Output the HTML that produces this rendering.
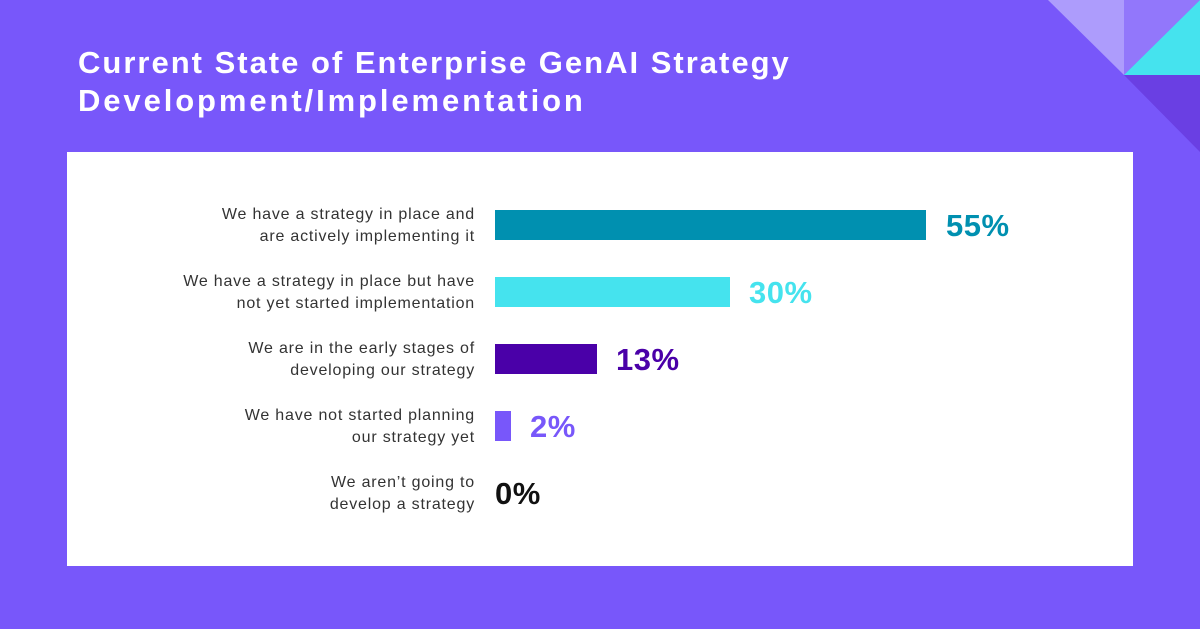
<!DOCTYPE html>
<html><head><style>
body{margin:0;width:1200px;height:629px;background:#7857fa;position:relative;overflow:hidden;font-family:"Liberation Sans",sans-serif}
h1{position:absolute;left:78px;top:44px;margin:0;color:#fff;font-size:31px;line-height:38px;font-weight:bold;letter-spacing:2px}
h1 span{letter-spacing:2.9px}
.panel{position:absolute;left:67px;top:152px;width:1066px;height:414px;background:#fff}
.lab{position:absolute;right:725px;width:360px;text-align:right;font-size:16px;line-height:22px;color:#333;letter-spacing:0.8px}
.bar{position:absolute;left:495px;height:30px}
.pct{position:absolute;font-size:31px;font-weight:bold;line-height:30px;letter-spacing:0.5px}
</style></head><body>
<svg style="position:absolute;left:0;top:0" width="1200" height="629">
<polygon points="1048,0 1124,0 1124,75" fill="#ad9cfc"/>
<polygon points="1124,0 1200,0 1124,75" fill="#9277fb"/>
<polygon points="1124,75 1200,0 1200,75" fill="#45e3ee"/>
<polygon points="1124,75 1200,75 1200,152" fill="#6a3fe3"/>
</svg>
<h1>Current State of Enterprise GenAI Strategy<br><span>Development/Implementation</span></h1>
<div class="panel"></div>
<div class="lab" style="top:204px">We have a strategy in place and<br>are actively implementing it</div>
<div class="lab" style="top:271px">We have a strategy in place but have<br>not yet started implementation</div>
<div class="lab" style="top:338px">We are in the early stages of<br>developing our strategy</div>
<div class="lab" style="top:405px">We have not started planning<br>our strategy yet</div>
<div class="lab" style="top:472px">We aren’t going to<br>develop a strategy</div>
<div class="bar" style="top:210px;width:431px;background:#0090b0"></div>
<div class="bar" style="top:277px;width:235px;background:#45e3ee"></div>
<div class="bar" style="top:344px;width:102px;background:#4a00a8"></div>
<div class="bar" style="top:411px;width:16px;background:#7857fa"></div>
<div class="pct" style="left:946px;top:211px;color:#0090b0">55%</div>
<div class="pct" style="left:749px;top:278px;color:#45e3ee">30%</div>
<div class="pct" style="left:616px;top:345px;color:#4a00a8">13%</div>
<div class="pct" style="left:530px;top:412px;color:#7857fa">2%</div>
<div class="pct" style="left:495px;top:479px;color:#111">0%</div>
</body></html>
